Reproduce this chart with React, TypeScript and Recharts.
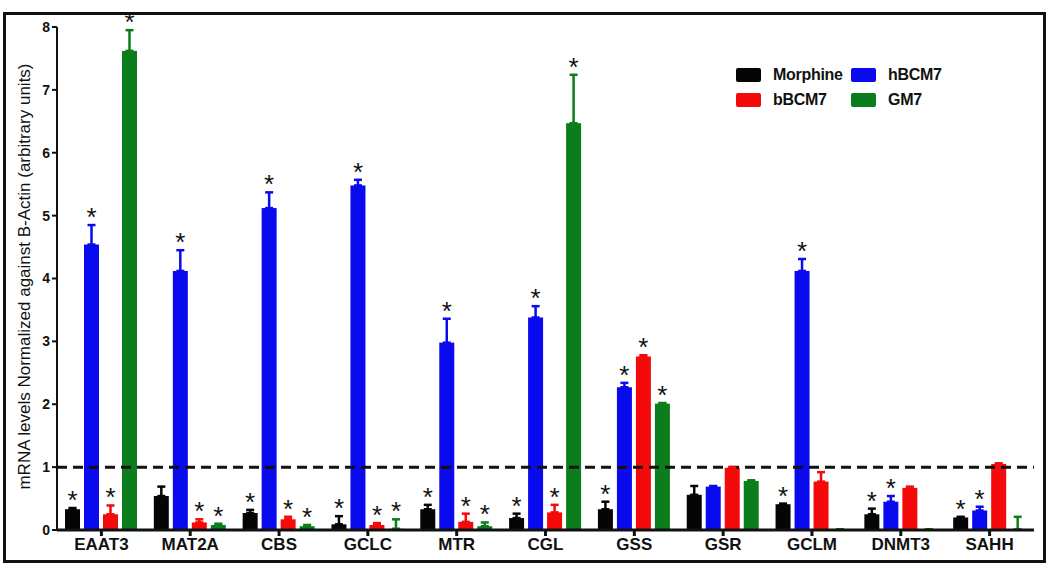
import React from 'react';
import { BarChart, Bar, XAxis, YAxis, ErrorBar, ReferenceLine, Legend } from 'recharts';

const genes = ['EAAT3', 'MAT2A', 'CBS', 'GCLC', 'MTR', 'CGL', 'GSS', 'GSR', 'GCLM', 'DNMT3', 'SAHH'];

const morphine = [0.33, 0.54, 0.27, 0.09, 0.33, 0.19, 0.33, 0.56, 0.41, 0.25, 0.2];
const morphineErr = [0.02, 0.15, 0.05, 0.13, 0.07, 0.07, 0.12, 0.14, 0.01, 0.09, 0.01];
const morphineSig = [1, 0, 1, 1, 1, 1, 1, 0, 1, 1, 1];

const hBCM7 = [4.54, 4.12, 5.12, 5.48, 2.98, 3.38, 2.27, 0.69, 4.12, 0.45, 0.31];
const hBCM7Err = [0.31, 0.33, 0.25, 0.09, 0.38, 0.18, 0.07, 0.01, 0.19, 0.09, 0.06];
const hBCM7Sig = [1, 1, 1, 1, 1, 1, 1, 0, 1, 1, 1];

const bBCM7 = [0.25, 0.12, 0.17, 0.08, 0.13, 0.28, 2.76, 0.99, 0.77, 0.67, 1.05];
const bBCM7Err = [0.14, 0.05, 0.04, 0.03, 0.13, 0.12, 0.02, 0.01, 0.15, 0.02, 0.01];
const bBCM7Sig = [1, 1, 1, 1, 1, 1, 1, 0, 0, 0, 0];

const gm7 = [7.62, 0.08, 0.06, 0.02, 0.06, 6.47, 2.01, 0.78, 0.01, 0.01, 0.01];
const gm7Err = [0.33, 0.02, 0.02, 0.15, 0.06, 0.77, 0.01, 0.01, 0, 0, 0.2];
const gm7Sig = [1, 1, 1, 1, 1, 1, 1, 0, 0, 0, 0];

const yTicks = [0, 1, 2, 3, 4, 5, 6, 7, 8];

const data = genes.map((gene, i) => ({
  gene,
  morphine: morphine[i],
  morphineErr: [0, morphineErr[i]],
  hBCM7: hBCM7[i],
  hBCM7Err: [0, hBCM7Err[i]],
  bBCM7: bBCM7[i],
  bBCM7Err: [0, bBCM7Err[i]],
  gm7: gm7[i],
  gm7Err: [0, gm7Err[i]],
}));

const FONT = '"Liberation Sans", Arial, sans-serif';
const PLOT_TOP = 27;
const PLOT_BOTTOM = 530;
const PX_PER_UNIT = (PLOT_BOTTOM - PLOT_TOP) / 8;

const series = [
  { key: 'morphine', name: 'Morphine', color: '#050505', err: morphineErr, sig: morphineSig },
  { key: 'hBCM7', name: 'hBCM7', color: '#0a0aee', err: hBCM7Err, sig: hBCM7Sig },
  { key: 'bBCM7', name: 'bBCM7', color: '#f40a0a', err: bBCM7Err, sig: bBCM7Sig },
  { key: 'gm7', name: 'GM7', color: '#0b7d1c', err: gm7Err, sig: gm7Sig },
];
const seriesOrder = series.map((s) => s.name);

// bar with an asterisk above its error bar when flagged
const starShape = (fill: string, err: number[], sig: number[]) => (props: any) => {
  const { x, y, width, height, index } = props;
  const top = y - err[index] * PX_PER_UNIT;
  return (
    <g>
      <rect x={x} y={y} width={width} height={Math.max(height, 0)} fill={fill} />
      {sig[index] ? (
        <text x={x + width / 2} y={top + 1} textAnchor="middle" fontSize={26} fontFamily={FONT} fill="#111">
          *
        </text>
      ) : null}
    </g>
  );
};

const renderLegend = (props: any) => {
  const items = [...(props.payload || [])].sort(
    (a: any, b: any) => seriesOrder.indexOf(a.value) - seriesOrder.indexOf(b.value)
  );
  return (
    <div style={{ display: 'grid', gridTemplateColumns: '115px 110px', rowGap: 9, fontFamily: FONT }}>
      {items.map((it: any) => (
        <div key={it.value} style={{ display: 'flex', alignItems: 'center', height: 16 }}>
          <span style={{ width: 25, height: 14, background: it.color, borderRadius: 2, marginRight: 12 }} />
          <span style={{ fontSize: 16, fontWeight: 'bold', color: '#111', letterSpacing: -0.3 }}>{it.value}</span>
        </div>
      ))}
    </div>
  );
};

export default function App() {
  return (
    <div style={{ position: 'absolute', left: 0, top: 0, width: 1050, height: 575, background: '#fff' }}>
      <div
        style={{
          position: 'absolute',
          left: 3,
          top: 12,
          width: 1043,
          height: 551,
          border: '3px solid #111',
          boxSizing: 'border-box',
        }}
      />
      <BarChart
        width={1050}
        height={575}
        data={data}
        margin={{ top: PLOT_TOP, right: 16, bottom: 15, left: 0 }}
        barSize={15}
        barGap={4}
      >
        <XAxis
          dataKey="gene"
          height={575 - PLOT_BOTTOM - 15}
          axisLine={{ stroke: '#111', strokeWidth: 3 }}
          tickLine={{ stroke: '#111', strokeWidth: 3 }}
          tickSize={6}
          tick={{ fill: '#111', fontSize: 17, fontWeight: 'bold', fontFamily: FONT }}
          interval={0}
        />
        <YAxis
          width={57}
          domain={[0, 8]}
          ticks={yTicks}
          axisLine={{ stroke: '#111', strokeWidth: 2 }}
          tickLine={{ stroke: '#111', strokeWidth: 2 }}
          tickSize={5}
          tick={{ fill: '#111', fontSize: 14, fontWeight: 'bold', fontFamily: FONT }}
          label={{
            value: 'mRNA levels Normalized against B-Actin (arbitrary units)',
            angle: -90,
            position: 'insideLeft',
            dx: 19,
            dy: -2,
            style: { textAnchor: 'middle', fill: '#111', fontSize: 17, fontFamily: FONT },
          }}
        />
        <ReferenceLine y={1} stroke="#111" strokeWidth={3} strokeDasharray="10 6" />
        {series.map((s) => (
          <Bar
            key={s.key}
            dataKey={s.key}
            name={s.name}
            fill={s.color}
            isAnimationActive={false}
            shape={starShape(s.color, s.err, s.sig)}
          >
            <ErrorBar dataKey={`${s.key}Err`} direction="y" width={4} stroke={s.color} strokeWidth={2.5} />
          </Bar>
        ))}
        <Legend
          layout="vertical"
          align="center"
          verticalAlign="middle"
          content={renderLegend}
          wrapperStyle={{ position: 'absolute', left: 736, top: 67, width: 240 }}
        />
      </BarChart>
    </div>
  );
}
